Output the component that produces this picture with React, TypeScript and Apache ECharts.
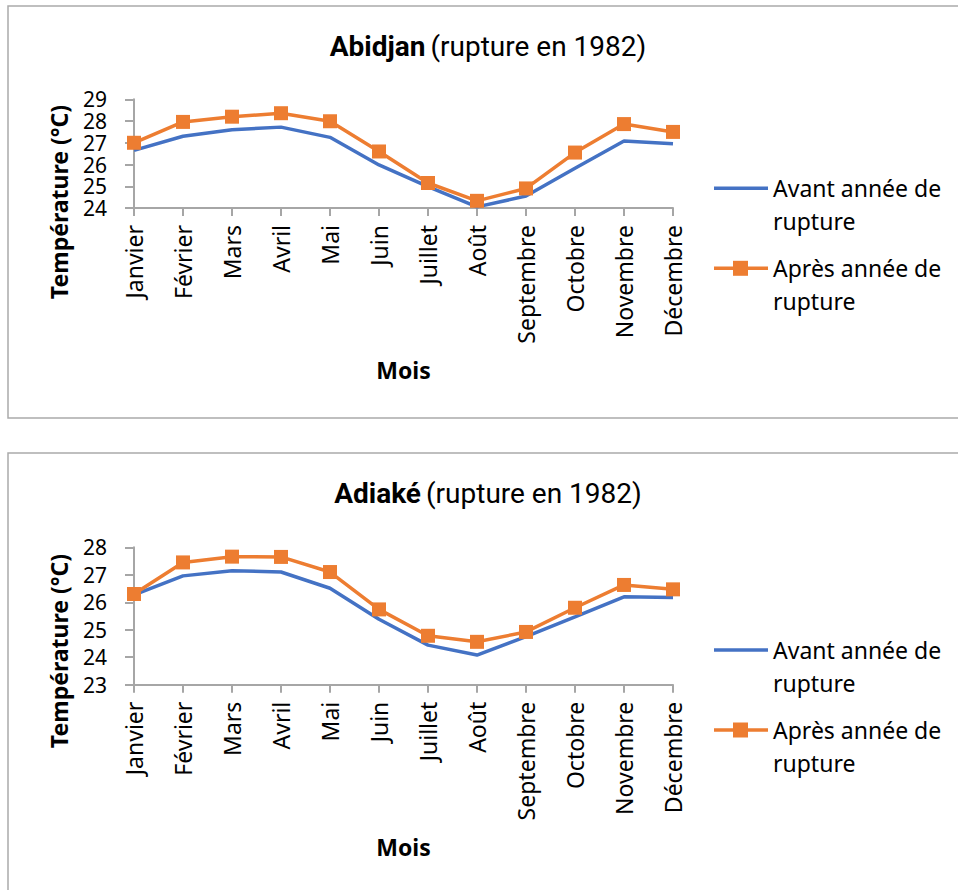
import React, { useEffect, useRef } from "react";
import * as echarts from "echarts";

const months = ["Janvier", "Février", "Mars", "Avril", "Mai", "Juin", "Juillet", "Août", "Septembre", "Octobre", "Novembre", "Décembre"];

const abidjanAvant = [26.65, 27.3, 27.6, 27.72, 27.25, 25.98, 24.98, 24.05, 24.55, 25.83, 27.08, 26.95];
const abidjanApres = [27.0, 27.96, 28.2, 28.36, 27.99, 26.6, 25.15, 24.33, 24.9, 26.55, 27.86, 27.5];

const adiakeAvant = [26.27, 26.96, 27.15, 27.1, 26.51, 25.38, 24.44, 24.08, 24.75, 25.47, 26.2, 26.17];
const adiakeApres = [26.3, 27.45, 27.66, 27.65, 27.1, 25.74, 24.78, 24.56, 24.92, 25.8, 26.63, 26.47];

const stations = ["Abidjan", "Adiaké"];
const titleSuffix = "(rupture en 1982)";
const yRanges = [[24, 29], [23, 28]];
const seriesNames = ["Avant année de rupture", "Après année de rupture"];
const legendLines = [["Avant année de", "rupture"], ["Après année de", "rupture"]];
const yTitle = "Température (°C)";
const xTitle = "Mois";

const BLUE = "#4472C4";
const ORANGE = "#ED7D31";
const AXIS = "#A6A6A6";
const FONT = "'Noto Sans', 'Open Sans', sans-serif";
const TITLE_FONT = "Roboto, 'Noto Sans', sans-serif";

export default function App() {
  const ref = useRef<HTMLDivElement>(null);
  useEffect(() => {
    if (!ref.current) return;
    const chart = echarts.init(ref.current, null, { renderer: "svg" });

    const panels = [
      { boxTop: 6, boxH: 412, gridTop: 99.3, gridH: 108.7 },
      { boxTop: 453, boxH: 600, gridTop: 547.3, gridH: 137.4 },
    ];

    const grid = panels.map((p) => ({ left: 134, top: p.gridTop, width: 539, height: p.gridH, containLabel: false }));

    const xAxis = panels.map((_, i) => ({
      type: "category",
      gridIndex: i,
      data: months,
      boundaryGap: false,
      axisLine: { lineStyle: { color: AXIS, width: 2 } },
      axisTick: { show: true, length: 8, lineStyle: { color: AXIS, width: 2 } },
      axisLabel: { rotate: 90, margin: 17, interval: 0, fontSize: 23, fontFamily: FONT, color: "#000" },
      splitLine: { show: false },
    }));

    const yAxis = panels.map((_, i) => ({
      type: "value",
      gridIndex: i,
      min: yRanges[i][0],
      max: yRanges[i][1],
      interval: 1,
      axisLine: { show: true, lineStyle: { color: AXIS, width: 2 } },
      axisTick: { show: true, length: 9, lineStyle: { color: AXIS, width: 2 } },
      axisLabel: { margin: 27, fontSize: 21, fontFamily: FONT, color: "#000" },
      splitLine: { show: false },
    }));

    const data = [
      [abidjanAvant, abidjanApres],
      [adiakeAvant, adiakeApres],
    ];

    const series: any[] = [];
    data.forEach((pair, i) => {
      series.push({
        type: "line",
        name: seriesNames[0],
        xAxisIndex: i,
        yAxisIndex: i,
        data: pair[0],
        symbol: "none",
        lineStyle: { color: BLUE, width: 3.5 },
        itemStyle: { color: BLUE },
        z: 2,
      });
      series.push({
        type: "line",
        name: seriesNames[1],
        xAxisIndex: i,
        yAxisIndex: i,
        data: pair[1],
        symbol: "rect",
        symbolSize: 14,
        lineStyle: { color: ORANGE, width: 3.5 },
        itemStyle: { color: ORANGE },
        z: 3,
      });
    });

    const title = panels.map((p, i) => ({
      text: `{b|${stations[i]}} {r|${titleSuffix}}`,
      left: 488,
      top: p.boxTop + 22,
      textAlign: "center",
      padding: 0,
      textStyle: {
        rich: {
          b: { fontFamily: TITLE_FONT, fontWeight: "bold", fontSize: 28, color: "#000", lineHeight: 36 },
          r: { fontFamily: TITLE_FONT, fontWeight: "normal", fontSize: 28, color: "#000", lineHeight: 36 },
        },
      },
    }));

    const graphic: any[] = [];
    panels.forEach((p, i) => {
      const off = p.boxTop - 6;
      graphic.push({
        type: "rect",
        z: -10,
        silent: true,
        shape: { x: 8, y: p.boxTop, width: 1200, height: p.boxH },
        style: { fill: "none", stroke: "#ABABAB", lineWidth: 1.5 },
      });
      // y axis title
      graphic.push({
        type: "text",
        x: 58.7,
        y: 202 + off + (i === 1 ? 2 : 0),
        rotation: Math.PI / 2,
        style: {
          text: yTitle,
          fontFamily: FONT,
          fontWeight: "bold",
          fontSize: 23,
          fill: "#000",
          align: "center",
          verticalAlign: "middle",
        },
      });
      // x axis title
      graphic.push({
        type: "text",
        x: 403.5,
        y: p.gridTop + p.gridH + 162,
        style: {
          text: xTitle,
          fontFamily: FONT,
          fontWeight: "bold",
          fontSize: 23,
          fill: "#000",
          align: "center",
          verticalAlign: "middle",
        },
      });
      // legend
      const lOff = i === 0 ? 0 : 461.7;
      const ly1 = 188.3 + lOff;
      const ly2 = 268.3 + lOff;
      graphic.push({
        type: "line",
        shape: { x1: 714, y1: ly1, x2: 768, y2: ly1 },
        style: { stroke: BLUE, lineWidth: 3.5 },
      });
      graphic.push({
        type: "line",
        shape: { x1: 714, y1: ly2, x2: 768, y2: ly2 },
        style: { stroke: ORANGE, lineWidth: 3.5 },
      });
      graphic.push({
        type: "rect",
        shape: { x: 733, y: ly2 - 7.5, width: 15, height: 15 },
        style: { fill: ORANGE },
      });
      [ly1, ly2].forEach((ly, k) => {
        legendLines[k].forEach((txt, j) => {
          graphic.push({
            type: "text",
            x: 773,
            y: ly + j * 33,
            style: {
              text: txt,
              fontFamily: FONT,
              fontSize: 23,
              fill: "#000",
              align: "left",
              verticalAlign: "middle",
            },
          });
        });
      });
    });

    chart.setOption({
      animation: false,
      backgroundColor: "#fff",
      title,
      grid,
      xAxis,
      yAxis,
      series,
      graphic,
    });
    return () => chart.dispose();
  }, []);

  return <div ref={ref} style={{ position: "absolute", left: 0, top: 0, width: 958, height: 890 }} />;
}
